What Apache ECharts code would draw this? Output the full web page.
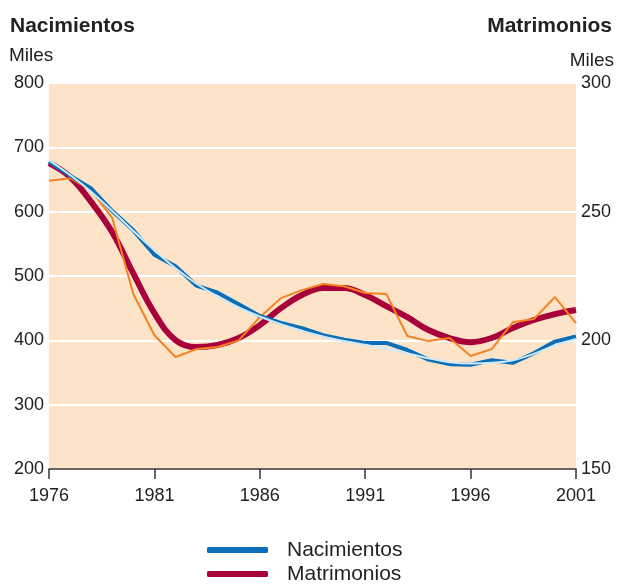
<!DOCTYPE html>
<html>
<head>
<meta charset="utf-8">
<script src="https://cdn.jsdelivr.net/npm/echarts@6/dist/echarts.min.js"></script>
<style>
	html, body { margin: 0; padding: 0; background: #fff; }
	#chart { width: 617px; height: 586px; }
</style>
</head>
<body>
<div id="chart"></div>
<script>
// datos (miles)
var years = ['1976','1977','1978','1979','1980','1981','1982','1983','1984','1985','1986','1987','1988',
	'1989','1990','1991','1992','1993','1994','1995','1996','1997','1998','1999','2000','2001'];
var nacimientos = [678, 656, 636, 601, 571, 533, 515, 485, 474, 456, 438, 427, 419,
	408, 401, 396, 396, 385, 370, 363, 362, 369, 365, 380, 398, 406];
var nacimientosTend = [680, 657, 631, 601, 570, 540, 512, 488, 468, 451, 437, 425, 415,
	406, 399, 393, 387, 380, 372, 366, 364, 365, 369, 379, 392, 402];
var matrimonios = [262, 263, 258.4, 247.5, 218, 202, 193.5, 196.6, 197.4, 200, 209, 216.4, 219.5,
	221.9, 221, 218.4, 218, 201.7, 199.7, 200.9, 193.9, 196.6, 207, 208.3, 216.8, 206.7];
var matrimoniosTend = [268.9, 263.5, 253.8, 242, 226, 210.6, 200.1, 197.4, 198.2, 200.9, 205.9, 212.5, 217.6,
	220.3, 220.3, 217.6, 213.3, 209, 204, 200.9, 199.3, 200.9, 204.8, 207.9, 210.2, 211.8];
var xTicks = ['1976','1981','1986','1991','1996','2001'];

var FONT = 'Liberation Sans';
var chart = echarts.init(document.getElementById('chart'));

function showTick(i, v) {
	return xTicks.indexOf(v) >= 0;
}

chart.setOption({
	animation: false,
	textStyle: {fontFamily: FONT},
	title: [
		{text: 'Nacimientos', left: 10, top: 16, padding: 0, textStyle: {fontFamily: FONT, fontSize: 21, fontWeight: 'bold', color: '#222'}},
		{text: 'Miles', left: 9, top: 46, padding: 0, textStyle: {fontFamily: FONT, fontSize: 19, fontWeight: 'normal', color: '#222'}},
		{text: 'Matrimonios', right: 5, top: 16, padding: 0, textStyle: {fontFamily: FONT, fontSize: 21, fontWeight: 'bold', color: '#222'}},
		{text: 'Miles', right: 3, top: 51, padding: 0, textStyle: {fontFamily: FONT, fontSize: 19, fontWeight: 'normal', color: '#222'}}
	],
	legend: {
		orient: 'vertical',
		left: 207,
		top: 538,
		height: 80,
		padding: 0,
		itemWidth: 61,
		itemHeight: 6,
		itemGap: 0,
		icon: 'roundRect',
		data: ['Nacimientos', 'Matrimonios'],
		textStyle: {fontFamily: FONT, fontSize: 21, lineHeight: 24, color: '#222', padding: [0, 0, 0, 14]}
	},
	grid: {left: 49, right: 41, top: 83, bottom: 117, containLabel: false,
		show: true, backgroundColor: '#fde4c9', borderWidth: 0},
	xAxis: {
		type: 'category',
		data: years,
		boundaryGap: false,
		axisLine: {lineStyle: {color: '#333', width: 1.5}},
		axisTick: {show: true, length: 10, interval: showTick, lineStyle: {color: '#333', width: 1.5}},
		axisLabel: {interval: showTick, fontSize: 18, color: '#222', margin: 18, fontFamily: FONT},
		splitLine: {show: false}
	},
	yAxis: [
		{
			type: 'value', min: 200, max: 800, interval: 100, position: 'left',
			axisLine: {show: false}, axisTick: {show: false},
			axisLabel: {fontSize: 18, color: '#222', margin: 5, fontFamily: FONT},
			splitLine: {show: true, lineStyle: {color: '#fff', width: 2}}
		},
		{
			type: 'value', min: 150, max: 300, interval: 50, position: 'right',
			axisLine: {show: false}, axisTick: {show: false},
			axisLabel: {fontSize: 18, color: '#222', margin: 5, fontFamily: FONT},
			splitLine: {show: false}
		}
	],
	series: [
		{
			name: 'Nacimientos', type: 'line', yAxisIndex: 0, data: nacimientos,
			symbol: 'none', lineStyle: {color: '#0a6fb8', width: 4}, itemStyle: {color: '#0a6fb8'}, z: 3
		},
		{
			name: 'Nacimientos tendencia', type: 'line', yAxisIndex: 0, data: nacimientosTend,
			symbol: 'none', smooth: 0.3, lineStyle: {color: '#cfe9f8', width: 2}, z: 4
		},
		{
			name: 'Matrimonios', type: 'line', yAxisIndex: 1, data: matrimoniosTend,
			symbol: 'none', smooth: 0.4, lineStyle: {color: '#a8003a', width: 6}, itemStyle: {color: '#a8003a'}, z: 2
		},
		{
			name: 'Matrimonios anual', type: 'line', yAxisIndex: 1, data: matrimonios,
			symbol: 'none', lineStyle: {color: '#f5821f', width: 2}, z: 2
		}
	]
});
</script>
</body>
</html>
